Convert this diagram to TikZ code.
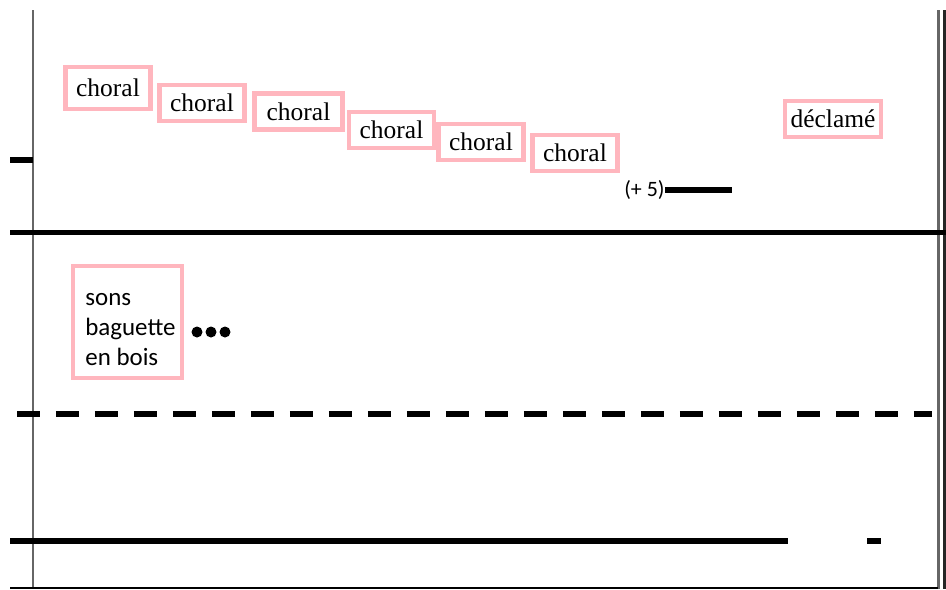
\documentclass[tikz,border=0pt]{standalone}
\usepackage{fontspec}
\setmainfont{Liberation Serif}
\newfontfamily\calib{Carlito}
\definecolor{boxpink}{RGB}{255,182,190}
\tikzset{
  staff/.style={line width=3.2pt},
  bar/.style={line width=1.7pt,black!60},
  pinkbox/.style={draw=boxpink,line width=2.5pt,inner sep=0pt},
  choralbox/.style={pinkbox,minimum width=1.7cm,minimum height=0.72cm}
}
\begin{document}
\begin{tikzpicture}[x=0.02cm,y=-0.02cm,font=\fontsize{14.5}{17}\selectfont]
\useasboundingbox (0,0) rectangle (946,589);
\draw [bar] (33,10) -- (33,589);
\draw [bar] (938,10) -- (938,589);
\draw [bar,black!85] (944,10) -- (944,589);
\draw [line width=1.2pt] (10,588) -- (938,588);
\draw [staff] (10,160) -- (33,160);
\draw [staff] (10,232.5) -- (946,232.5);
\draw [staff,dash pattern=on 0.46cm off 0.32cm] (17,414) -- (932,414);
\draw [staff] (10,541) -- (788,541);
\draw [staff] (867,541) -- (881,541);
\node [choralbox,minimum height=0.84cm] (choral1) at (108,88) {choral};
\node [choralbox] (choral2) at (202,103) {choral};
\node [choralbox,minimum width=1.76cm] (choral3) at (298.5,111.5) {choral};
\node [choralbox] (choral4) at (391.5,130) {choral};
\node [choralbox] (choral5) at (481,142) {choral};
\node [choralbox] (choral6) at (575,153) {choral};
\node [choralbox,minimum width=1.92cm] (declame) at (833,119) {déclamé};
\node [pinkbox,minimum width=2.18cm,minimum height=2.24cm] (sonsbox) at (127.5,322) {};
\node [anchor=north west,inner sep=0pt,align=left,font=\calib\fontsize{14.2}{17}\selectfont] (sons) at (85,293) {sons\\baguette\\en bois};
\fill (197,332) circle [radius=0.11cm];
\fill (211,332) circle [radius=0.11cm];
\fill (225,332) circle [radius=0.11cm];
\node [anchor=east,inner sep=0pt,font=\calib\fontsize{12.5}{15}\selectfont] (plus5) at (665,190) {(+ 5)};
\coordinate (plus5end) at (732,190);
\draw [staff] (plus5.east) -- (plus5end);
\end{tikzpicture}
\end{document}
